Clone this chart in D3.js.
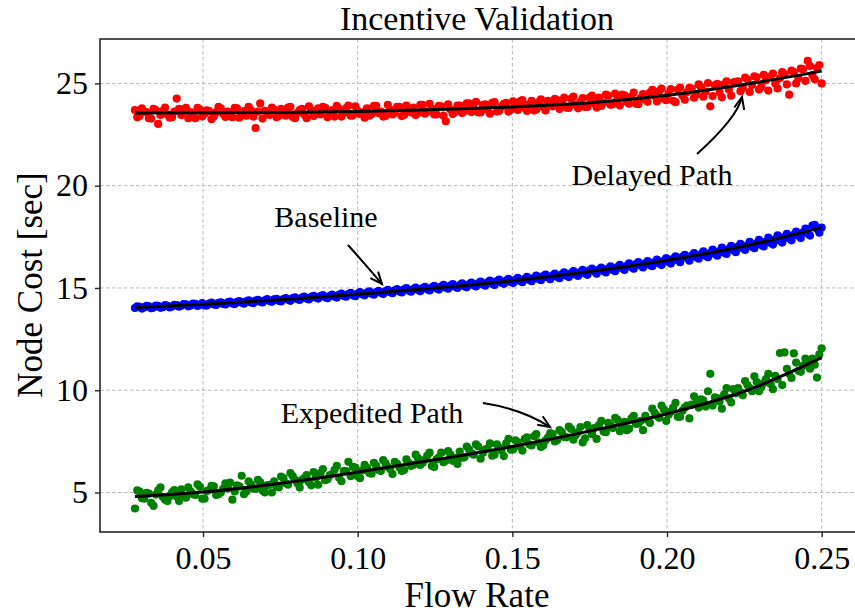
<!DOCTYPE html>
<html>
<head>
<meta charset="utf-8">
<script src="https://cdn.jsdelivr.net/npm/d3@7"></script>
<style>
  body { margin: 0; background: #fff; }
  svg text { font-family: "Liberation Serif", "DejaVu Serif", serif; fill: #000; }
</style>
</head>
<body>
<svg id="chart" width="855" height="615"></svg>
<script>
// two interleaved x grids shared by the three measured series
const flowRate = [
  0.0280,0.0295,0.0310,0.0325,0.0340,0.0355,0.0370,0.0385,0.0400,0.0415,
  0.0430,0.0445,0.0460,0.0475,0.0490,0.0505,0.0520,0.0535,0.0550,0.0565,
  0.0580,0.0595,0.0610,0.0625,0.0640,0.0655,0.0670,0.0685,0.0700,0.0715,
  0.0730,0.0745,0.0760,0.0775,0.0790,0.0805,0.0820,0.0835,0.0850,0.0865,
  0.0880,0.0895,0.0910,0.0925,0.0940,0.0955,0.0970,0.0985,0.1000,0.1015,
  0.1030,0.1045,0.1060,0.1075,0.1090,0.1105,0.1120,0.1135,0.1150,0.1165,
  0.1180,0.1195,0.1210,0.1225,0.1240,0.1255,0.1270,0.1285,0.1300,0.1315,
  0.1330,0.1345,0.1360,0.1375,0.1390,0.1405,0.1420,0.1435,0.1450,0.1465,
  0.1480,0.1495,0.1510,0.1525,0.1540,0.1555,0.1570,0.1585,0.1600,0.1615,
  0.1630,0.1645,0.1660,0.1675,0.1690,0.1705,0.1720,0.1735,0.1750,0.1765,
  0.1780,0.1795,0.1810,0.1825,0.1840,0.1855,0.1870,0.1885,0.1900,0.1915,
  0.1930,0.1945,0.1960,0.1975,0.1990,0.2005,0.2020,0.2035,0.2050,0.2065,
  0.2080,0.2095,0.2110,0.2125,0.2140,0.2155,0.2170,0.2185,0.2200,0.2215,
  0.2230,0.2245,0.2260,0.2275,0.2290,0.2305,0.2320,0.2335,0.2350,0.2365,
  0.2380,0.2395,0.2410,0.2425,0.2440,0.2455,0.2470,0.2485,0.2500
];
const flowRateB = [
  0.02875,0.03025,0.03175,0.03325,0.03475,0.03625,0.03775,0.03925,0.04075,0.04225,
  0.04375,0.04525,0.04675,0.04825,0.04975,0.05125,0.05275,0.05425,0.05575,0.05725,
  0.05875,0.06025,0.06175,0.06325,0.06475,0.06625,0.06775,0.06925,0.07075,0.07225,
  0.07375,0.07525,0.07675,0.07825,0.07975,0.08125,0.08275,0.08425,0.08575,0.08725,
  0.08875,0.09025,0.09175,0.09325,0.09475,0.09625,0.09775,0.09925,0.10075,0.10225,
  0.10375,0.10525,0.10675,0.10825,0.10975,0.11125,0.11275,0.11425,0.11575,0.11725,
  0.11875,0.12025,0.12175,0.12325,0.12475,0.12625,0.12775,0.12925,0.13075,0.13225,
  0.13375,0.13525,0.13675,0.13825,0.13975,0.14125,0.14275,0.14425,0.14575,0.14725,
  0.14875,0.15025,0.15175,0.15325,0.15475,0.15625,0.15775,0.15925,0.16075,0.16225,
  0.16375,0.16525,0.16675,0.16825,0.16975,0.17125,0.17275,0.17425,0.17575,0.17725,
  0.17875,0.18025,0.18175,0.18325,0.18475,0.18625,0.18775,0.18925,0.19075,0.19225,
  0.19375,0.19525,0.19675,0.19825,0.19975,0.20125,0.20275,0.20425,0.20575,0.20725,
  0.20875,0.21025,0.21175,0.21325,0.21475,0.21625,0.21775,0.21925,0.22075,0.22225,
  0.22375,0.22525,0.22675,0.22825,0.22975,0.23125,0.23275,0.23425,0.23575,0.23725,
  0.23875,0.24025,0.24175,0.24325,0.24475,0.24625,0.24775,0.24925
];

// Delayed Path (red)
const delayedCost = [
  23.70,23.40,23.62,23.30,23.75,23.02,23.66,23.48,23.35,24.26,
  23.45,23.80,23.60,23.30,23.72,23.52,23.65,23.38,23.85,23.50,
  23.62,23.35,23.78,23.55,23.42,23.70,22.82,24.02,23.66,23.45,
  23.72,23.40,23.60,23.82,23.36,23.55,23.75,23.30,23.68,23.50,
  23.48,23.80,23.62,23.38,23.75,23.55,23.92,23.44,23.66,23.58,
  23.78,23.50,23.90,23.62,23.40,23.72,23.55,23.85,23.45,23.68,
  23.82,23.55,23.95,23.62,23.75,23.48,23.88,23.15,23.72,23.60,
  23.92,23.65,24.02,23.75,23.58,23.95,23.70,24.05,23.62,23.85,
  24.05,23.72,23.95,24.12,23.80,23.98,23.68,24.08,23.85,24.15,
  23.88,24.18,24.05,23.82,24.25,23.95,24.10,23.85,24.30,24.02,
  24.30,24.05,24.40,23.98,24.22,24.45,24.10,24.35,24.00,24.28,
  24.20,24.55,24.38,24.62,24.25,24.50,24.15,24.70,24.40,24.58,
  24.75,24.45,24.82,24.60,23.88,24.90,24.55,24.95,24.70,25.05,
  25.10,24.78,25.20,24.92,25.30,24.85,25.15,25.35,25.00,25.25,
  25.45,24.45,25.55,25.25,25.70,26.10,25.40,25.75,25.00
];
const delayedCostB = [
  23.35,23.78,23.60,23.28,23.70,23.45,23.82,23.32,23.62,23.75,
  23.72,23.30,23.50,23.80,23.38,23.68,23.25,23.58,23.78,23.36,
  23.40,23.80,23.32,23.65,23.85,23.38,23.62,23.28,23.55,23.82,
  23.35,23.75,23.42,23.85,23.30,23.70,23.48,23.88,23.40,23.78,
  23.85,23.35,23.70,23.90,23.38,23.78,23.42,23.88,23.50,23.32,
  23.42,23.90,23.55,23.38,23.95,23.48,23.85,23.40,23.92,23.58,
  23.45,23.95,23.52,24.00,23.48,23.90,23.42,23.98,23.50,23.92,
  23.55,24.02,23.60,24.10,23.58,23.98,23.52,24.08,23.65,24.00,
  23.62,24.12,23.70,24.18,23.65,24.15,23.72,24.22,23.68,24.10,
  24.25,23.75,24.30,23.80,24.35,23.78,24.28,23.85,24.40,23.82,
  23.90,24.45,23.95,24.50,23.92,24.42,24.00,24.55,23.98,24.48,
  24.10,24.68,24.12,24.75,24.18,24.72,24.08,24.80,24.20,24.78,
  24.30,24.95,24.35,25.02,24.38,24.98,24.32,25.10,24.40,25.08,
  24.62,25.28,24.58,25.35,24.70,25.42,24.65,25.48,24.75,25.55,
  24.95,25.62,25.00,25.72,25.12,25.85,25.20,25.90
];

// Baseline (blue)
const baselineCost = [
  14.02,14.08,14.05,14.10,14.04,14.12,14.06,14.13,14.09,14.16,
  14.13,14.20,14.14,14.22,14.18,14.15,14.24,14.19,14.27,14.22,
  14.30,14.24,14.32,14.28,14.35,14.29,14.38,14.33,14.40,14.36,
  14.44,14.38,14.46,14.42,14.50,14.45,14.53,14.48,14.57,14.52,
  14.60,14.54,14.62,14.58,14.66,14.61,14.70,14.64,14.73,14.69,
  14.77,14.72,14.80,14.76,14.84,14.79,14.88,14.83,14.93,14.87,
  14.95,14.90,14.99,14.94,15.03,14.97,15.07,15.01,15.12,15.06,
  15.14,15.08,15.18,15.13,15.22,15.17,15.27,15.21,15.33,15.26,
  15.36,15.29,15.40,15.34,15.45,15.39,15.50,15.44,15.58,15.51,
  15.61,15.54,15.66,15.60,15.72,15.65,15.77,15.71,15.86,15.80,
  15.90,15.82,15.95,15.88,16.02,15.96,16.08,16.01,16.17,16.10,
  16.20,16.12,16.26,16.19,16.33,16.27,16.42,16.35,16.52,16.46,
  16.58,16.50,16.64,16.57,16.72,16.66,16.80,16.73,16.90,16.84,
  17.02,16.94,17.08,17.01,17.18,17.10,17.27,17.20,17.38,17.31,
  17.50,17.42,17.60,17.55,17.72,17.66,18.05,17.88,17.95
];
const baselineCostB = [
  14.10,13.99,14.12,14.01,14.14,14.03,14.16,14.05,14.18,14.08,
  14.21,14.10,14.23,14.12,14.26,14.14,14.28,14.17,14.30,14.19,
  14.33,14.21,14.36,14.23,14.39,14.26,14.42,14.29,14.45,14.32,
  14.47,14.34,14.50,14.37,14.54,14.41,14.58,14.44,14.61,14.48,
  14.65,14.50,14.68,14.53,14.72,14.57,14.76,14.60,14.80,14.64,
  14.83,14.67,14.86,14.70,14.91,14.74,14.95,14.78,14.99,14.82,
  15.02,14.84,15.06,14.88,15.10,14.92,15.15,14.96,15.19,15.00,
  15.22,15.03,15.26,15.07,15.31,15.11,15.36,15.15,15.41,15.20,
  15.44,15.24,15.49,15.28,15.54,15.33,15.60,15.38,15.65,15.43,
  15.70,15.48,15.76,15.53,15.82,15.59,15.88,15.64,15.95,15.70,
  16.00,15.76,16.06,15.82,16.13,15.88,16.20,15.94,16.27,16.00,
  16.31,16.06,16.38,16.12,16.46,16.19,16.54,16.26,16.62,16.33,
  16.70,16.43,16.79,16.50,16.88,16.58,16.97,16.66,17.06,16.75,
  17.15,16.86,17.25,16.94,17.35,17.03,17.46,17.12,17.57,17.22,
  17.64,17.33,17.76,17.44,17.90,17.56,18.08,17.70
];

// Expedited Path (green)
const expeditedCost = [
  4.22,5.05,4.70,4.95,4.35,5.10,4.78,4.58,5.02,4.80,
  5.15,4.75,5.05,4.88,5.28,4.70,5.12,5.30,4.92,5.18,
  5.20,4.65,5.35,5.82,5.05,5.40,5.18,5.50,5.00,5.38,
  5.55,5.25,5.70,5.38,5.80,5.45,5.62,5.85,5.35,5.72,
  5.95,5.60,5.85,6.10,5.72,6.05,6.50,6.25,5.80,6.08,
  6.20,5.92,6.30,6.05,6.42,6.15,6.50,6.22,6.10,6.45,
  6.35,6.68,6.45,6.80,6.30,6.62,6.95,6.55,6.85,6.70,
  7.00,6.72,7.10,6.85,7.25,6.95,7.15,6.80,7.35,7.05,
  7.40,7.10,7.55,7.25,7.62,7.35,7.75,7.45,7.30,7.68,
  7.85,7.55,7.95,7.70,8.10,7.80,8.20,7.65,8.05,8.15,
  8.30,7.98,8.40,8.15,8.55,8.25,8.05,8.62,8.35,8.50,
  8.75,8.40,8.90,8.65,9.05,8.80,9.15,8.70,9.00,9.25,
  9.30,9.40,9.55,9.20,10.80,9.65,9.45,9.80,9.60,10.05,
  10.10,9.75,10.25,9.95,10.40,10.15,10.55,10.30,10.70,11.82,
  11.85,10.80,11.80,10.95,11.20,11.40,11.55,10.62,12.05
];
const expeditedCostB = [
  5.10,4.72,4.98,4.50,4.90,5.25,4.65,4.82,5.12,4.58,
  4.80,5.25,4.92,5.40,4.70,5.08,5.32,4.88,5.00,5.45,
  5.48,5.05,5.30,4.92,5.55,5.20,5.62,5.10,5.35,5.00,
  5.30,5.78,5.45,5.95,5.62,5.25,5.70,5.50,6.00,5.38,
  6.15,5.65,5.90,6.30,5.55,6.05,5.80,6.22,5.70,6.35,
  5.95,6.45,6.10,6.58,6.25,5.90,6.40,6.05,6.62,6.30,
  6.85,6.35,6.60,6.95,6.25,6.72,6.48,7.02,6.55,6.40,
  6.70,7.25,6.92,7.35,6.65,7.10,7.40,6.85,7.20,6.78,
  7.62,7.10,7.45,7.05,7.70,7.30,7.85,7.22,7.55,7.90,
  7.50,8.05,7.72,8.22,7.58,7.95,7.45,8.30,7.85,7.62,
  8.50,7.95,8.30,8.65,8.00,8.45,8.12,8.75,8.38,8.05,
  8.55,9.10,8.75,9.25,8.50,8.95,9.38,8.70,9.15,8.62,
  9.70,9.15,9.50,9.95,9.25,9.62,9.10,10.10,9.40,9.85,
  9.90,10.45,10.10,10.68,9.95,10.35,10.80,10.05,10.55,10.25,
  11.05,10.60,11.35,10.90,11.55,11.05,11.25,11.75
];

// fitted trend lines
const fitX = [0.028, 0.05, 0.075, 0.10, 0.125, 0.15, 0.175, 0.20, 0.225, 0.25];
const delayedFit = [23.55, 23.56, 23.58, 23.62, 23.72, 23.85, 24.05, 24.42, 24.95, 25.6];
const baselineFit = [14.05, 14.2, 14.42, 14.7, 15.0, 15.35, 15.8, 16.35, 17.05, 17.95];
const expeditedFit = [4.8, 5.02, 5.45, 6.0, 6.6, 7.25, 8.0, 8.85, 9.95, 11.6];

const xTicks = [0.05, 0.10, 0.15, 0.20, 0.25];
const yTicks = [5, 10, 15, 20, 25];

const svg = d3.select("#chart");
const plotLeft = 100, plotRight = 856, plotTop = 39, plotBottom = 532;

const x = d3.scaleLinear().domain([0.0167, 0.2611]).range([plotLeft, plotRight]);
const y = d3.scaleLinear().domain([3.07, 27.17]).range([plotBottom, plotTop]);

svg.append("defs").append("clipPath").attr("id", "plotClip")
  .append("rect").attr("x", plotLeft).attr("y", plotTop)
  .attr("width", plotRight - plotLeft).attr("height", plotBottom - plotTop);

// grid
const grid = svg.append("g");
grid.selectAll(".gx").data(xTicks).enter().append("line")
  .attr("x1", d => x(d)).attr("x2", d => x(d))
  .attr("y1", plotTop).attr("y2", plotBottom);
grid.selectAll(".gy").data(yTicks).enter().append("line")
  .attr("x1", plotLeft).attr("x2", plotRight)
  .attr("y1", d => y(d)).attr("y2", d => y(d));
grid.selectAll("line")
  .attr("stroke", "#b8b8b8").attr("stroke-width", 1)
  .attr("stroke-dasharray", "3.5,2.5");

const plot = svg.append("g").attr("clip-path", "url(#plotClip)");

const series = [
  { a: delayedCost, b: delayedCostB, fit: delayedFit, color: "#ff0000" },
  { a: baselineCost, b: baselineCostB, fit: baselineFit, color: "#0000ff" },
  { a: expeditedCost, b: expeditedCostB, fit: expeditedFit, color: "#008000" }
];

const line = d3.line()
  .x(d => x(d[0])).y(d => y(d[1]))
  .curve(d3.curveMonotoneX);

series.forEach(s => {
  const pts = s.a.map((v, i) => [flowRate[i], v])
    .concat(s.b.map((v, i) => [flowRateB[i], v]));
  plot.append("g").selectAll("circle")
    .data(pts)
    .enter().append("circle")
    .attr("cx", d => x(d[0]))
    .attr("cy", d => y(d[1]))
    .attr("r", 4.1)
    .attr("fill", s.color);
});

series.forEach(s => {
  plot.append("path")
    .datum(fitX.map((v, i) => [v, s.fit[i]]))
    .attr("d", line)
    .attr("fill", "none")
    .attr("stroke", "#000")
    .attr("stroke-width", 3);
});

// axes
const xAxis = svg.append("g")
  .attr("transform", `translate(0,${plotBottom})`)
  .call(d3.axisBottom(x).tickValues(xTicks).tickSize(5).tickPadding(9)
    .tickFormat(d3.format(".2f")));
const yAxis = svg.append("g")
  .attr("transform", `translate(${plotLeft},0)`)
  .call(d3.axisLeft(y).tickValues(yTicks).tickSize(5).tickPadding(7));

[xAxis, yAxis].forEach(a => {
  a.select(".domain").remove();
  a.selectAll(".tick line").attr("stroke", "#262626").attr("stroke-width", 1.4);
  a.selectAll(".tick text")
    .attr("font-family", "Liberation Serif")
    .attr("font-size", 32).attr("fill", "#000");
});

// spines
svg.append("rect")
  .attr("x", plotLeft).attr("y", plotTop)
  .attr("width", plotRight - plotLeft).attr("height", plotBottom - plotTop)
  .attr("fill", "none").attr("stroke", "#262626").attr("stroke-width", 1.6);

// titles
svg.append("text").attr("x", 477).attr("y", 30)
  .attr("text-anchor", "middle").attr("font-size", 34)
  .text("Incentive Validation");
svg.append("text").attr("x", 477).attr("y", 607)
  .attr("text-anchor", "middle").attr("font-size", 35)
  .text("Flow Rate");
svg.append("text")
  .attr("transform", "translate(42,285) rotate(-90)")
  .attr("text-anchor", "middle").attr("font-size", 35)
  .text("Node Cost [sec]");

// annotations
const notes = [
  { label: "Delayed Path", tx: 652, ty: 185, path: [[697, 154], [737, 118], [742, 97]] },
  { label: "Baseline", tx: 326, ty: 227, path: [[348, 245], [365, 264], [382, 284]] },
  { label: "Expedited Path", tx: 372, ty: 423, path: [[483, 403], [522, 409], [550, 427]] }
];

notes.forEach(n => {
  svg.append("text").attr("x", n.tx).attr("y", n.ty)
    .attr("text-anchor", "middle").attr("font-size", 30)
    .text(n.label);
  const [p0, c, p1] = n.path;
  svg.append("path")
    .attr("d", `M${p0[0]},${p0[1]} Q${c[0]},${c[1]} ${p1[0]},${p1[1]}`)
    .attr("fill", "none").attr("stroke", "#000").attr("stroke-width", 2);
  const ang = Math.atan2(p1[1] - c[1], p1[0] - c[0]);
  const len = 13, spread = 0.4;
  const head = [ang - spread, ang + spread].map(a =>
    [p1[0] - len * Math.cos(a), p1[1] - len * Math.sin(a)]);
  svg.append("path")
    .attr("d", `M${head[0][0]},${head[0][1]} L${p1[0]},${p1[1]} L${head[1][0]},${head[1][1]}`)
    .attr("fill", "none").attr("stroke", "#000").attr("stroke-width", 2)
    .attr("stroke-linejoin", "miter");
});
</script>
</body>
</html>
